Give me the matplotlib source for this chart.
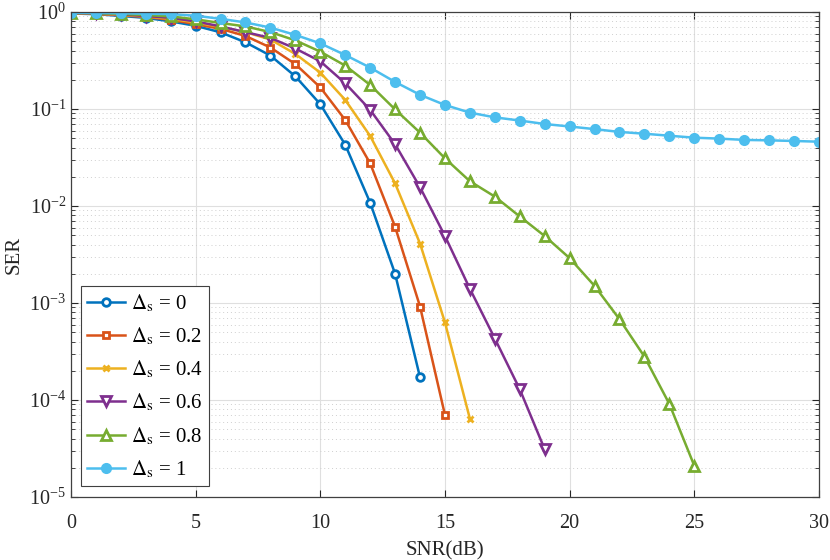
import numpy as np
from matplotlib import pyplot as plt
from matplotlib.ticker import LogLocator, NullFormatter, MultipleLocator

plt.rcParams['font.family'] = ['Liberation Serif', 'DejaVu Serif']
plt.rcParams['mathtext.fontset'] = 'stix'

# SER vs SNR for different Delta_s values
snr_0 = list(range(0, 15))
ser_0 = [0.965, 0.95, 0.91, 0.87, 0.80, 0.72, 0.617, 0.487, 0.355, 0.217,
         0.112, 0.0428, 0.0108, 0.0020, 1.71e-4]

snr_02 = list(range(0, 16))
ser_02 = [0.97, 0.955, 0.925, 0.89, 0.83, 0.75, 0.67, 0.566, 0.43, 0.29,
          0.167, 0.077, 0.0275, 0.0061, 9.2e-4, 7.0e-5]

snr_04 = list(range(0, 17))
ser_04 = [0.97, 0.96, 0.935, 0.90, 0.85, 0.78, 0.70, 0.62, 0.52, 0.369,
          0.237, 0.124, 0.0527, 0.0171, 0.0041, 6.3e-4, 6.4e-5]

snr_06 = list(range(0, 20))
ser_06 = [0.975, 0.965, 0.945, 0.91, 0.87, 0.80, 0.71, 0.62, 0.54, 0.42,
          0.31, 0.184, 0.098, 0.0433, 0.0156, 0.0049, 0.0014, 4.3e-4,
          1.29e-4, 3.1e-5]

snr_08 = list(range(0, 26))
ser_08 = [0.98, 0.97, 0.955, 0.93, 0.90, 0.84, 0.77, 0.71, 0.62, 0.51,
          0.39, 0.28, 0.177, 0.099, 0.057, 0.031, 0.018, 0.0125, 0.0078,
          0.0049, 0.0029, 0.0015, 6.8e-4, 2.8e-4, 9.1e-5, 2.1e-5]

snr_1 = list(range(0, 31))
ser_1 = [0.98, 0.98, 0.97, 0.96, 0.95, 0.915, 0.85, 0.78, 0.69, 0.58,
         0.475, 0.36, 0.267, 0.19, 0.14, 0.110, 0.0917, 0.082, 0.076,
         0.070, 0.066, 0.062, 0.058, 0.0556, 0.053, 0.0506, 0.0495,
         0.048, 0.0475, 0.0468, 0.046]

labels = ['0', '0.2', '0.4', '0.6', '0.8', '1']
colors = ['#0072BD', '#D95319', '#EDB120', '#7E2F8E', '#77AC30', '#4DBEEE']
markers = ['o', 's', 'x', 'v', '^', 'o']
filled = [False, False, False, False, False, True]
series = [(snr_0, ser_0), (snr_02, ser_02), (snr_04, ser_04),
          (snr_06, ser_06), (snr_08, ser_08), (snr_1, ser_1)]

fig = plt.figure(figsize=(8.3, 5.6), dpi=100)
ax = fig.add_axes([0.0855, 0.1125, 0.9012, 0.8661])

for (x, y), lab, c, m, f in zip(series, labels, colors, markers, filled):
    ms = {'o': 5.5, 's': 5, 'x': 4, 'v': 6.5, '^': 6.5}[m]
    if f:
        ms = 6
    ax.plot(x, y, color=c, marker=m, lw=1.8, ms=ms, mew=2.0,
            mfc=c if f else 'white',
            label=r'$\Delta_{\mathrm{s}}$ = ' + lab)

ax.set_yscale('log')
ax.set_xlim(0, 30)
ax.set_ylim(1e-5, 1)
ax.xaxis.set_major_locator(MultipleLocator(5))
ax.yaxis.set_major_locator(LogLocator(base=10, numticks=10))
ax.yaxis.set_minor_locator(LogLocator(base=10, subs=np.arange(2, 10), numticks=20))
ax.yaxis.set_minor_formatter(NullFormatter())

ax.grid(True, which='major', color='#dfdfdf', lw=0.8, ls='-')
ax.grid(True, which='minor', axis='y', color='#cfcfcf', lw=0.7, ls=(0, (1, 3)))
ax.set_axisbelow(True)

for s in ax.spines.values():
    s.set_color('#404040')
    s.set_linewidth(0.9)
ax.tick_params(which='both', direction='in', top=True, right=True,
               colors='#262626', labelsize=14.5)
ax.tick_params(which='major', length=5)
ax.tick_params(which='minor', length=3)
ax.tick_params(axis='x', pad=12)

ax.set_xlabel('SNR(dB)', fontsize=15, color='#262626', labelpad=6)
ax.set_ylabel('SER', fontsize=15, color='#262626', labelpad=4)

leg = ax.legend(loc='lower left', bbox_to_anchor=(0.013, 0.022),
                borderaxespad=0, fontsize=15, labelspacing=0.55,
                handlelength=1.85, handletextpad=0.25, fancybox=False,
                edgecolor='#404040', framealpha=1, borderpad=0.3)
leg.get_frame().set_linewidth(0.8)

fig.savefig('out.png', dpi=100)
